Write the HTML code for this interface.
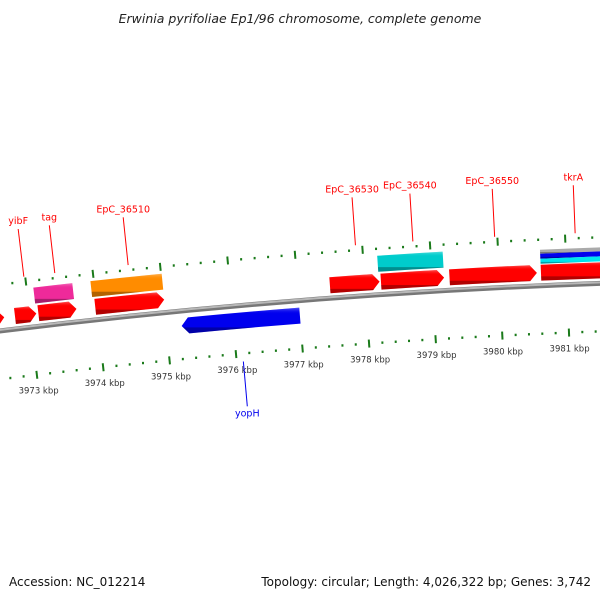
<!DOCTYPE html>
<html><head><meta charset="utf-8"><style>
html,body{margin:0;padding:0;background:#fff}
svg{display:block;font-family:"DejaVu Sans","Liberation Sans",sans-serif}
</style></head><body>
<svg id="map" width="600" height="600" viewBox="0 0 600 600">
<defs></defs>
<text x="300" y="23" text-anchor="middle" font-size="12.5" font-style="italic" fill="#222">Erwinia pyrifoliae Ep1/96 chromosome, complete genome</text>
<g id="ring"></g>
<g id="feat"></g>
<g id="labels"></g>
<text x="9" y="586" font-size="12" fill="#111">Accession: NC_012214</text>
<text x="591" y="586" text-anchor="end" font-size="12" fill="#111">Topology: circular; Length: 4,026,322 bp; Genes: 3,742</text>
</svg>
<script>
// data (kbp)
const featStart = [3972.0, 3972.78, 3973.13, 3973.98, 3977.48, 3978.24, 3979.26, 3980.62, 3973.10, 3973.95, 3978.21, 3975.23, 3972.0, 3980.62, 3980.62, 3980.62];
const featEnd   = [3972.62, 3973.10, 3973.70, 3975.01, 3978.22, 3979.18, 3980.56, 3981.9, 3973.68, 3975.01, 3979.18, 3977.00, 3972.55, 3981.9, 3981.9, 3981.9];
const featStrand= [1,1,1,1,1,1,1,1,0,0,0,-1,0,0,0,0];
const featLayer = ["fwd","fwd","fwd","fwd","fwd","fwd","fwd","fwd","L2","L2","L2","rev","L2","s1","s2","s3"];
const featColor = ["#ff0000","#ff0000","#ff0000","#ff0000","#ff0000","#ff0000","#ff0000","#ff0000","#ee2a9a","#ff8c00","#00cccc","#0000ee","#b5b07a","#aaaaaa","#0000ee","#00e5ee"];
const tickKbp = [3972,3973,3974,3975,3976,3977,3978,3979,3980,3981,3982];
const tickLabels = ["3972 kbp","3973 kbp","3974 kbp","3975 kbp","3976 kbp","3977 kbp","3978 kbp","3979 kbp","3980 kbp","3981 kbp","3982 kbp"];
const geneNames = ["yibF","tag","EpC_36510","EpC_36530","EpC_36540","EpC_36550","tkrA","yopH"];
const geneKbp   = [3972.98,3973.44,3974.53,3977.9,3978.75,3979.96,3981.15,3976.1];
const geneStrand= [1,1,1,1,1,1,1,-1];

const NS="http://www.w3.org/2000/svg";
const CX=845, CY=7180, R=6900, K=0.009739, T0=-0.1182;
function ang(k){return T0+(k-3973)*K;}
function pt(k,dr){const a=ang(k),r=R+dr;return [CX+r*Math.sin(a),CY-r*Math.cos(a)];}
function ptA(a,dr){const r=R+dr;return [CX+r*Math.sin(a),CY-r*Math.cos(a)];}
function f(p){return p[0].toFixed(2)+","+p[1].toFixed(2);}
function mk(tag,attrs,parent){const e=document.createElementNS(NS,tag);for(const k in attrs)e.setAttribute(k,attrs[k]);parent.appendChild(e);return e;}
const ring=document.getElementById('ring'), feat=document.getElementById('feat'), labs=document.getElementById('labels');

let b=mk('path',{d:"M"+f(pt(3971,1))+" A"+(R+1)+" "+(R+1)+" 0 0 1 "+f(pt(3983,1)),fill:"none",stroke:"#777","stroke-width":5},ring);


let b2=mk('path',{d:"M"+f(pt(3971,2))+" A"+(R+2)+" "+(R+2)+" 0 0 1 "+f(pt(3983,2)),fill:"none",stroke:"#b8b8b8","stroke-width":2},ring);



for(let i=0;i<=60;i++){
  const k=3971.4+i*0.2; const kr=Math.round(k*10)/10;
  const major=Math.abs(kr-Math.round(kr))<0.01;
  [47,-47].forEach(dr=>{
    let e;
    if(major){const a=pt(kr,dr-4),c=pt(kr,dr+4);e=mk('line',{x1:a[0],y1:a[1],x2:c[0],y2:c[1],stroke:"#1a7a1a","stroke-width":2},ring);}
    else{const p=pt(kr,dr);e=mk('rect',{x:p[0]-1,y:p[1]-1.2,width:2,height:2.4,fill:"#1a7a1a"},ring);}
    
    
  });
}
tickKbp.forEach((k,i)=>{
  const p=pt(k,-62);
  const t=mk('text',{x:p[0],y:p[1]+4,"text-anchor":"middle","font-size":"8.5",fill:"#333"},ring);
  t.textContent=tickLabels[i];
  
  
});

const layers={fwd:[6,22],rev:[-22,-6],L2:[24,40],s1:[33,37],s2:[28,33],s3:[23,28]};
const defs=document.querySelector('defs');
featStart.forEach((s,i)=>{
  const [r1,r2]=layers[featLayer[i]];
  const a1=ang(s),a2=ang(featEnd[i]);const head=7/R;
  let d;
  if(featStrand[i]===1){
    const ah=Math.max(a1,a2-head);
    d="M"+f(ptA(a1,r2))+" A"+(R+r2)+" "+(R+r2)+" 0 0 1 "+f(ptA(ah,r2))+" L"+f(ptA(a2,(r1+r2)/2))+" L"+f(ptA(ah,r1))+" A"+(R+r1)+" "+(R+r1)+" 0 0 0 "+f(ptA(a1,r1))+"Z";
  }else if(featStrand[i]===-1){
    const ah=Math.min(a2,a1+head);
    d="M"+f(ptA(a1,(r1+r2)/2))+" L"+f(ptA(ah,r2))+" A"+(R+r2)+" "+(R+r2)+" 0 0 1 "+f(ptA(a2,r2))+" L"+f(ptA(a2,r1))+" A"+(R+r1)+" "+(R+r1)+" 0 0 0 "+f(ptA(ah,r1))+"Z";
  }else{
    d="M"+f(ptA(a1,r2))+" A"+(R+r2)+" "+(R+r2)+" 0 0 1 "+f(ptA(a2,r2))+" L"+f(ptA(a2,r1))+" A"+(R+r1)+" "+(R+r1)+" 0 0 0 "+f(ptA(a1,r1))+"Z";
  }
  const gid='g'+i;
  const g=mk('linearGradient',{id:gid,x1:0,y1:0,x2:0,y2:1},defs);
  const c=featColor[i];
  mk('stop',{offset:0,"stop-color":"#fff","stop-opacity":0.35},g);
  mk('stop',{offset:0.25,"stop-color":c,"stop-opacity":0},g);
  mk('stop',{offset:0.75,"stop-color":c,"stop-opacity":0},g);
  mk('stop',{offset:0.78,"stop-color":"#000","stop-opacity":0.3},g);
  const bg=mk('path',{d:d,fill:c},feat);
  
  
  const p=mk('path',{d:d,fill:"url(#"+gid+")"},feat);
  
  
});

geneNames.forEach((n,i)=>{
  const s=geneStrand[i];
  const a=s>0?pt(geneKbp[i],52):pt(geneKbp[i],-55);
  const c=s>0?pt(geneKbp[i],100):pt(geneKbp[i],-100);
  const col=s>0?"#ff0000":"#0000ee";
  const l=mk('line',{x1:a[0],y1:a[1],x2:c[0],y2:c[1],stroke:col,"stroke-width":1},labs);
  
  
  const t=mk('text',{x:c[0],y:s>0?c[1]-5:c[1]+10,"text-anchor":"middle","font-size":"9.5",fill:col},labs);
  t.textContent=n;
  
  
});
</script>
</body></html>
